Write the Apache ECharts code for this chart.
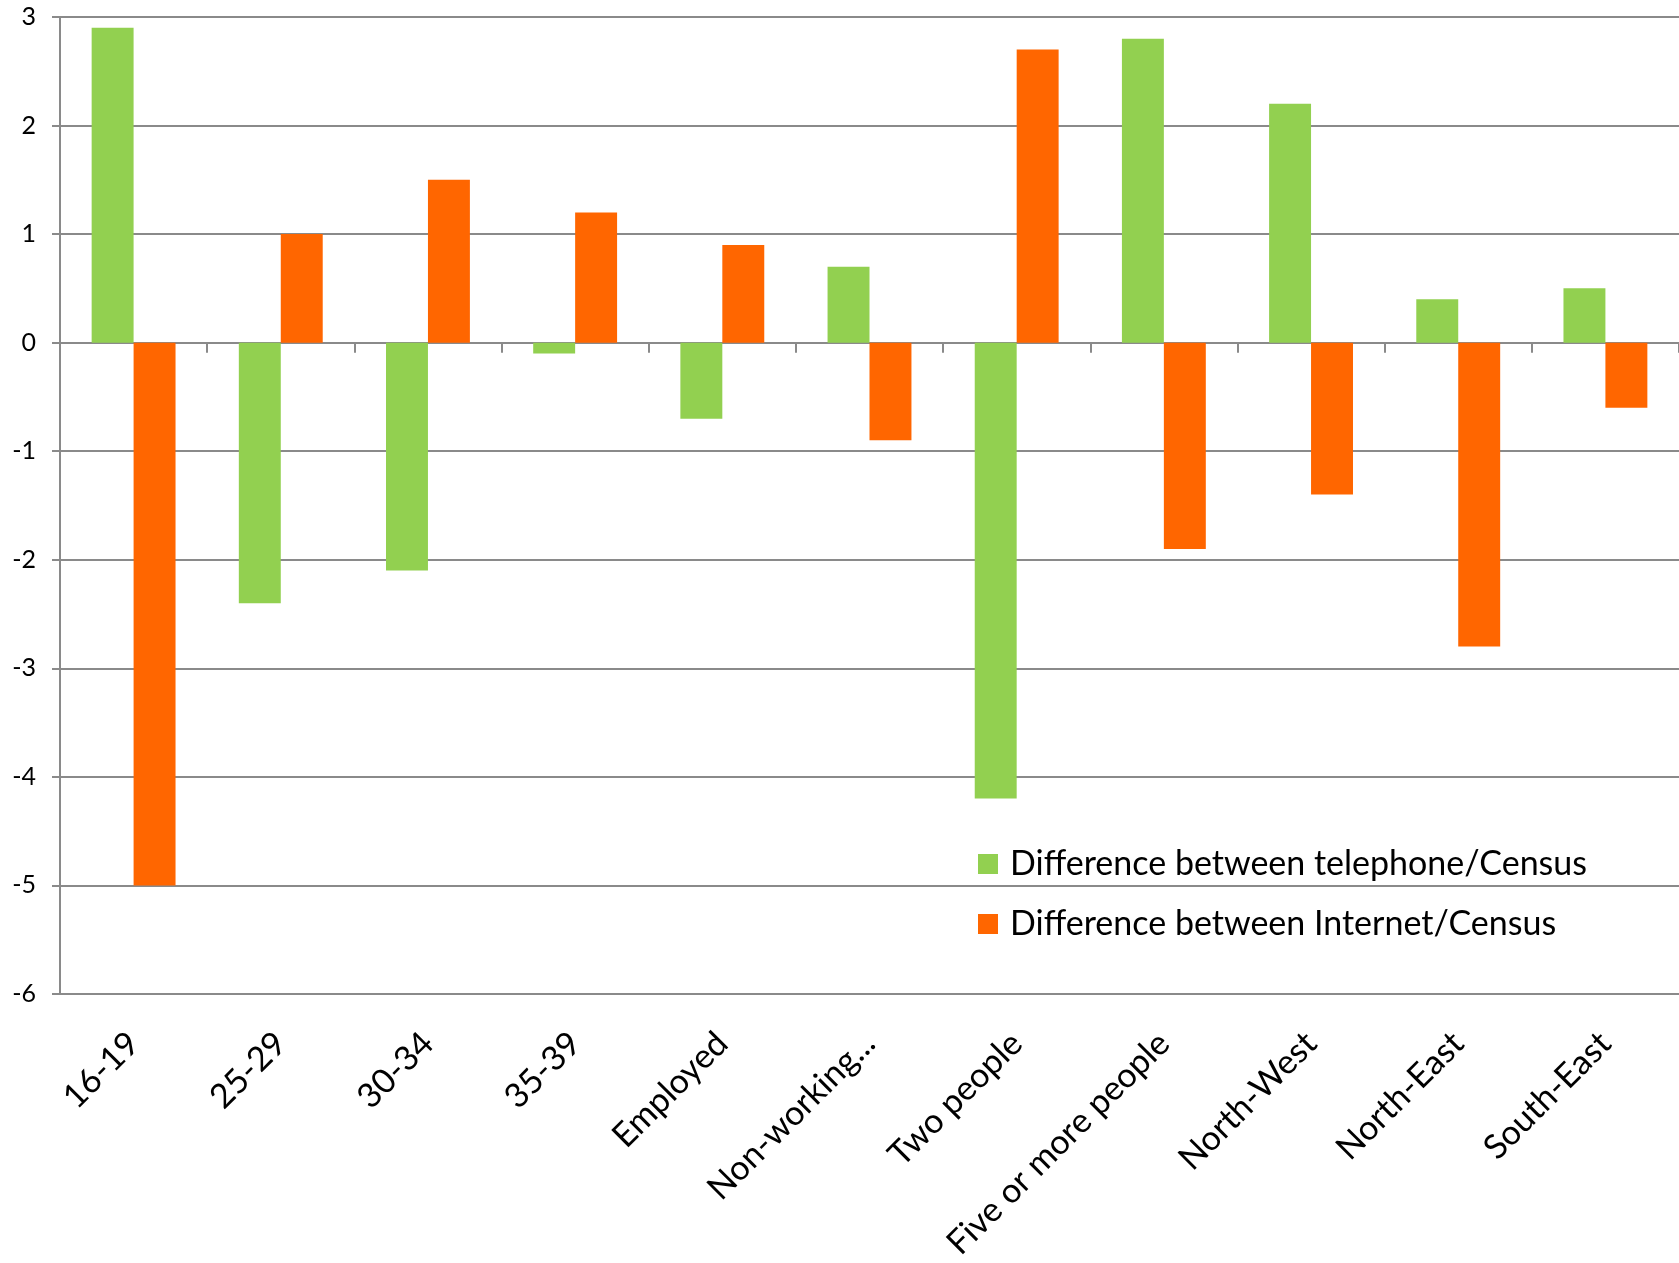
<!DOCTYPE html>
<html>
<head>
<meta charset="utf-8">
<script src="https://cdn.jsdelivr.net/npm/echarts@6/dist/echarts.min.js"></script>
<style>
  html, body { margin: 0; padding: 0; background: #fff; }
  #chart { width: 1679px; height: 1263px; }
</style>
</head>
<body>
<div id="chart"></div>
<script>
var categories = ['16-19', '25-29', '30-34', '35-39', 'Employed', 'Non-working...',
  'Two people', 'Five or more people', 'North-West', 'North-East', 'South-East'];
var telephoneDiff = [2.9, -2.4, -2.1, -0.1, -0.7, 0.7, -4.2, 2.8, 2.2, 0.4, 0.5];
var internetDiff = [-5.0, 1.0, 1.5, 1.2, 0.9, -0.9, 2.7, -1.9, -1.4, -2.8, -0.6];
var seriesNames = ['Difference between telephone/Census', 'Difference between Internet/Census'];

var FONT = 'Lato';
var GRID_GREY = '#8a8a8a';

var chart = echarts.init(document.getElementById('chart'));

var option = {
  animation: false,
  textStyle: { fontFamily: FONT, color: '#000' },
  grid: { left: 60, right: 0, top: 17, bottom: 265 },
  legend: {
    orient: 'vertical',
    left: 973,
    top: 842,
    itemWidth: 20,
    itemHeight: 20,
    itemGap: 26,
    icon: 'rect',
    textStyle: { fontFamily: FONT, fontSize: 34, color: '#000', padding: [0, 0, 0, 7] },
    data: seriesNames
  },
  xAxis: [{
    // axis line at zero, with ticks between categories
    type: 'category',
    data: categories,
    axisLine: { onZero: true, lineStyle: { color: GRID_GREY, width: 2 } },
    axisTick: { show: true, length: 10, alignWithLabel: false, lineStyle: { color: GRID_GREY, width: 2 } },
    axisLabel: { show: false },
    splitLine: { show: false }
  }, {
    // labels at the bottom of the plot
    type: 'category',
    data: categories,
    position: 'bottom',
    axisLine: { show: false, onZero: false },
    axisTick: { show: false },
    axisLabel: {
      interval: 0,
      rotate: 45,
      margin: 44,
      fontFamily: FONT,
      fontSize: 34,
      color: '#000'
    }
  }],
  yAxis: {
    type: 'value',
    min: -6,
    max: 3,
    interval: 1,
    axisLine: { show: true, lineStyle: { color: GRID_GREY, width: 2 } },
    axisTick: { show: true, length: 8, lineStyle: { color: GRID_GREY, width: 2 } },
    axisLabel: { margin: 24, fontFamily: FONT, fontSize: 25, color: '#000' },
    splitLine: { lineStyle: { color: GRID_GREY, width: 2 } }
  },
  series: [{
    name: seriesNames[0],
    type: 'bar',
    xAxisIndex: 0,
    data: telephoneDiff,
    barGap: '0%',
    barCategoryGap: '43%',
    itemStyle: { color: '#92D050' }
  }, {
    name: seriesNames[1],
    type: 'bar',
    xAxisIndex: 0,
    data: internetDiff,
    barGap: '0%',
    barCategoryGap: '43%',
    itemStyle: { color: '#FF6600' }
  }]
};

chart.setOption(option);
</script>
</body>
</html>
